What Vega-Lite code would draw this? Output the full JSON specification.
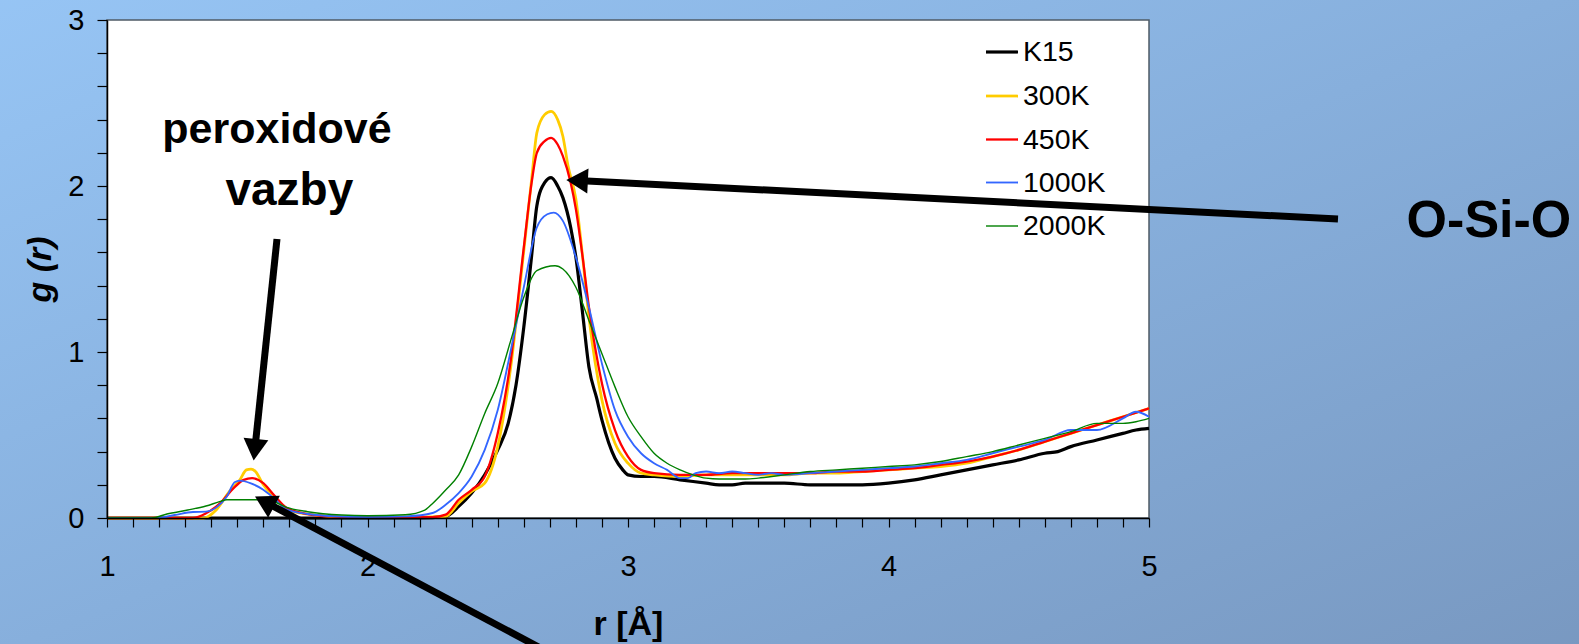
{
  "$schema": "https://vega.github.io/schema/vega-lite/v6.json",
  "width": 1042,
  "height": 498,
  "autosize": {"type": "none"},
  "padding": {"left": 107, "top": 20, "right": 430, "bottom": 126},
  "background": "#8AB2DE",
  "config": {
    "view": {"stroke": null},
    "font": "Liberation Sans",
    "axis": {"grid": false, "domainColor": "#000000", "domainWidth": 1.5, "tickColor": "#000000", "tickWidth": 1.2, "labelFont": "Liberation Sans", "labelColor": "#000000", "titleFont": "Liberation Sans", "titleColor": "#000000", "titleFontWeight": "bold"}
  },
  "encoding": {
    "x": {"field": "r", "type": "quantitative",
      "scale": {"domain": [1, 5], "nice": false, "zero": false},
      "axis": {"zindex": 2, "values": [1,1.1,1.2,1.3,1.4,1.5,1.6,1.7,1.8,1.9,2,2.1,2.2,2.3,2.4,2.5,2.6,2.7,2.8,2.9,3,3.1,3.2,3.3,3.4,3.5,3.6,3.7,3.8,3.9,4,4.1,4.2,4.3,4.4,4.5,4.6,4.7,4.8,4.9,5],
        "labelExpr": "abs(datum.value - round(datum.value)) < 0.001 ? format(datum.value, 'd') : ''",
        "labelFontSize": 29, "tickSize": 9, "labelPadding": 25, "labelFlush": false, "title": "r  [Å]", "titleFontSize": 34, "titlePadding": 26}},
    "y": {"field": "g", "type": "quantitative",
      "scale": {"domain": [0, 3], "nice": false, "zero": false},
      "axis": {"zindex": 2, "values": [0,0.2,0.4,0.6,0.8,1,1.2,1.4,1.6,1.8,2,2.2,2.4,2.6,2.8,3],
        "labelExpr": "abs(datum.value - round(datum.value)) < 0.001 ? format(datum.value, 'd') : ''",
        "labelFontSize": 29, "tickSize": 10, "labelPadding": 13, "labelFlush": false, "title": "g (r)", "titleFontSize": 34, "titleFontStyle": "italic", "titlePadding": 10}}
  },
  "layer": [
    {
      "data": {"values": [{"r": 0.3, "r2": 7.0, "g": -1.0, "g2": 3.4}]},
      "mark": {"type": "rect", "color": {"gradient": "linear", "x1": 0, "y1": 0, "x2": 1, "y2": 1, "stops": [{"offset": 0, "color": "#98C7F7"}, {"offset": 0.5, "color": "#87AFDC"}, {"offset": 1, "color": "#7796BE"}]}},
      "encoding": {"x2": {"field": "r2"}, "y2": {"field": "g2"}}
    },
    {
      "data": {"values": [{"r": 1, "r2": 5, "g": 0, "g2": 3}]},
      "mark": {"type": "rect", "fill": "#FFFFFF", "stroke": "#4F5B66", "strokeWidth": 1.5},
      "encoding": {"x2": {"field": "r2"}, "y2": {"field": "g2"}}
    },
    {
      "data": {"name": "curves"},
      "mark": {"type": "line", "interpolate": "monotone"},
      "encoding": {
        "color": {"field": "s", "type": "nominal", "sort": null,
          "scale": {"domain": ["K15", "300K", "450K", "1000K", "2000K"], "range": ["#000000", "#FFCC00", "#FF0000", "#3366FF", "#008000"]},
          "legend": {"title": null, "orient": "none", "legendX": 877, "legendY": 14, "zindex": 2, "padding": 0, "symbolType": "stroke", "symbolSize": 1024, "labelFontSize": 28.5, "labelFont": "Liberation Sans", "labelColor": "#000000", "labelOffset": 3, "rowPadding": 11.5, "fillColor": null, "strokeColor": null}},
        "strokeWidth": {"field": "s", "type": "nominal", "sort": null,
          "scale": {"domain": ["K15", "300K", "450K", "1000K", "2000K"], "range": [3.2, 1.4, 1.4, 1.4, 1.4]}},
        "order": {"field": "r", "type": "quantitative"}
      }
    },
    {
      "data": {"values": [
        {"r": 1.6526, "g": 1.6807, "r2": 1.5674, "g2": 0.4114},
        {"r": 5.7255, "g": 1.8012, "r2": 2.8046, "g2": 2.0331},
        {"r": 2.7221, "g": -0.8319, "r2": 1.6046, "g2": 0.0988}
      ]},
      "mark": {"type": "rule", "color": "#000000", "strokeWidth": 7},
      "encoding": {"x2": {"field": "r2"}, "y2": {"field": "g2"}}
    },
    {
      "data": {"values": [{"r": 1.5674, "g": 0.4114}]},
      "mark": {"type": "point", "shape": "triangle-down", "angle": 6, "size": 620, "filled": true, "color": "#000000", "opacity": 1}
    },
    {
      "data": {"values": [{"r": 2.8046, "g": 2.0331}]},
      "mark": {"type": "point", "shape": "triangle-left", "angle": 2.9, "size": 620, "filled": true, "color": "#000000", "opacity": 1}
    },
    {
      "data": {"values": [{"r": 1.6046, "g": 0.0988}]},
      "mark": {"type": "point", "shape": "triangle-left", "angle": 28, "size": 620, "filled": true, "color": "#000000", "opacity": 1}
    },
    {
      "data": {"values": [
        {"r": 1.6526, "g": 2.262, "label": "peroxidové"}
      ]},
      "mark": {"type": "text", "font": "Liberation Sans", "fontWeight": "bold", "fontSize": 43, "align": "center", "baseline": "alphabetic", "color": "#000000"},
      "encoding": {"text": {"field": "label"}}
    },
    {
      "data": {"values": [
        {"r": 1.7, "g": 1.884, "label": "vazby"}
      ]},
      "mark": {"type": "text", "font": "Liberation Sans", "fontWeight": "bold", "fontSize": 46, "align": "center", "baseline": "alphabetic", "color": "#000000"},
      "encoding": {"text": {"field": "label"}}
    },
    {
      "data": {"values": [
        {"r": 6.305, "g": 1.691, "label": "O-Si-O"}
      ]},
      "mark": {"type": "text", "font": "Liberation Sans", "fontWeight": "bold", "fontSize": 52, "align": "center", "baseline": "alphabetic", "color": "#000000"},
      "encoding": {"text": {"field": "label"}}
    }
  ],
  "datasets": {
    "curves": [
      {"s":"K15","r":1.0,"g":0},{"s":"K15","r":2.2,"g":0},{"s":"K15","r":2.3,"g":0.01},{"s":"K15","r":2.35,"g":0.07},{"s":"K15","r":2.4,"g":0.15},{"s":"K15","r":2.45,"g":0.26},{"s":"K15","r":2.5,"g":0.41},{"s":"K15","r":2.54,"g":0.57},{"s":"K15","r":2.57,"g":0.8},{"s":"K15","r":2.6,"g":1.15},{"s":"K15","r":2.63,"g":1.58},{"s":"K15","r":2.65,"g":1.88},{"s":"K15","r":2.68,"g":2.02},{"s":"K15","r":2.705,"g":2.05},{"s":"K15","r":2.73,"g":2.0},{"s":"K15","r":2.75,"g":1.93},{"s":"K15","r":2.78,"g":1.75},{"s":"K15","r":2.8,"g":1.57},{"s":"K15","r":2.826,"g":1.23},{"s":"K15","r":2.85,"g":0.91},{"s":"K15","r":2.88,"g":0.72},{"s":"K15","r":2.9,"g":0.59},{"s":"K15","r":2.95,"g":0.36},{"s":"K15","r":2.98,"g":0.29},{"s":"K15","r":3.0,"g":0.26},{"s":"K15","r":3.05,"g":0.25},{"s":"K15","r":3.1,"g":0.25},{"s":"K15","r":3.2,"g":0.23},{"s":"K15","r":3.3,"g":0.21},{"s":"K15","r":3.35,"g":0.2},{"s":"K15","r":3.4,"g":0.2},{"s":"K15","r":3.45,"g":0.21},{"s":"K15","r":3.5,"g":0.21},{"s":"K15","r":3.6,"g":0.21},{"s":"K15","r":3.7,"g":0.2},{"s":"K15","r":3.8,"g":0.2},{"s":"K15","r":3.9,"g":0.2},{"s":"K15","r":4.0,"g":0.21},{"s":"K15","r":4.1,"g":0.23},{"s":"K15","r":4.2,"g":0.26},{"s":"K15","r":4.3,"g":0.29},{"s":"K15","r":4.4,"g":0.32},{"s":"K15","r":4.5,"g":0.35},{"s":"K15","r":4.6,"g":0.39},{"s":"K15","r":4.65,"g":0.4},{"s":"K15","r":4.7,"g":0.43},{"s":"K15","r":4.8,"g":0.47},{"s":"K15","r":4.9,"g":0.51},{"s":"K15","r":4.95,"g":0.53},{"s":"K15","r":5.0,"g":0.54},
      {"s":"300K","r":1.0,"g":0},{"s":"300K","r":1.37,"g":0},{"s":"300K","r":1.42,"g":0.05},{"s":"300K","r":1.47,"g":0.16},{"s":"300K","r":1.51,"g":0.23},{"s":"300K","r":1.535,"g":0.29},{"s":"300K","r":1.553,"g":0.295},{"s":"300K","r":1.57,"g":0.28},{"s":"300K","r":1.6,"g":0.2},{"s":"300K","r":1.64,"g":0.13},{"s":"300K","r":1.69,"g":0.05},{"s":"300K","r":1.77,"g":0.024},{"s":"300K","r":1.85,"g":0.01},{"s":"300K","r":1.9,"g":0.005},{"s":"300K","r":2.2,"g":0.005},{"s":"300K","r":2.3,"g":0.01},{"s":"300K","r":2.35,"g":0.09},{"s":"300K","r":2.4,"g":0.16},{"s":"300K","r":2.45,"g":0.21},{"s":"300K","r":2.5,"g":0.43},{"s":"300K","r":2.55,"g":0.91},{"s":"300K","r":2.6,"g":1.61},{"s":"300K","r":2.63,"g":2.04},{"s":"300K","r":2.65,"g":2.32},{"s":"300K","r":2.68,"g":2.43},{"s":"300K","r":2.705,"g":2.45},{"s":"300K","r":2.73,"g":2.4},{"s":"300K","r":2.75,"g":2.3},{"s":"300K","r":2.77,"g":2.12},{"s":"300K","r":2.8,"g":1.92},{"s":"300K","r":2.826,"g":1.57},{"s":"300K","r":2.85,"g":1.21},{"s":"300K","r":2.9,"g":0.71},{"s":"300K","r":2.95,"g":0.45},{"s":"300K","r":3.0,"g":0.33},{"s":"300K","r":3.05,"g":0.27},{"s":"300K","r":3.1,"g":0.26},{"s":"300K","r":3.2,"g":0.25},{"s":"300K","r":3.3,"g":0.26},{"s":"300K","r":3.4,"g":0.26},{"s":"300K","r":3.5,"g":0.26},{"s":"300K","r":3.6,"g":0.26},{"s":"300K","r":3.7,"g":0.27},{"s":"300K","r":3.8,"g":0.27},{"s":"300K","r":3.9,"g":0.28},{"s":"300K","r":4.0,"g":0.29},{"s":"300K","r":4.1,"g":0.3},{"s":"300K","r":4.2,"g":0.31},{"s":"300K","r":4.3,"g":0.33},{"s":"300K","r":4.4,"g":0.37},{"s":"300K","r":4.5,"g":0.41},{"s":"300K","r":4.6,"g":0.46},{"s":"300K","r":4.7,"g":0.51},{"s":"300K","r":4.8,"g":0.56},{"s":"300K","r":4.9,"g":0.61},{"s":"300K","r":5.0,"g":0.66},
      {"s":"450K","r":1.0,"g":0},{"s":"450K","r":1.33,"g":0},{"s":"450K","r":1.38,"g":0.028},{"s":"450K","r":1.435,"g":0.09},{"s":"450K","r":1.486,"g":0.18},{"s":"450K","r":1.525,"g":0.23},{"s":"450K","r":1.557,"g":0.24},{"s":"450K","r":1.6,"g":0.21},{"s":"450K","r":1.64,"g":0.14},{"s":"450K","r":1.69,"g":0.06},{"s":"450K","r":1.77,"g":0.024},{"s":"450K","r":1.85,"g":0.01},{"s":"450K","r":2.0,"g":0.003},{"s":"450K","r":2.25,"g":0.005},{"s":"450K","r":2.3,"g":0.02},{"s":"450K","r":2.35,"g":0.11},{"s":"450K","r":2.4,"g":0.17},{"s":"450K","r":2.45,"g":0.25},{"s":"450K","r":2.5,"g":0.51},{"s":"450K","r":2.55,"g":0.95},{"s":"450K","r":2.6,"g":1.63},{"s":"450K","r":2.63,"g":2.02},{"s":"450K","r":2.65,"g":2.2},{"s":"450K","r":2.68,"g":2.27},{"s":"450K","r":2.705,"g":2.29},{"s":"450K","r":2.73,"g":2.25},{"s":"450K","r":2.75,"g":2.18},{"s":"450K","r":2.78,"g":2.02},{"s":"450K","r":2.8,"g":1.86},{"s":"450K","r":2.826,"g":1.57},{"s":"450K","r":2.85,"g":1.27},{"s":"450K","r":2.9,"g":0.81},{"s":"450K","r":2.95,"g":0.53},{"s":"450K","r":3.0,"g":0.37},{"s":"450K","r":3.05,"g":0.29},{"s":"450K","r":3.1,"g":0.27},{"s":"450K","r":3.2,"g":0.26},{"s":"450K","r":3.3,"g":0.26},{"s":"450K","r":3.4,"g":0.27},{"s":"450K","r":3.5,"g":0.27},{"s":"450K","r":3.6,"g":0.27},{"s":"450K","r":3.7,"g":0.27},{"s":"450K","r":3.8,"g":0.28},{"s":"450K","r":3.9,"g":0.28},{"s":"450K","r":4.0,"g":0.29},{"s":"450K","r":4.1,"g":0.3},{"s":"450K","r":4.2,"g":0.32},{"s":"450K","r":4.3,"g":0.34},{"s":"450K","r":4.4,"g":0.37},{"s":"450K","r":4.5,"g":0.41},{"s":"450K","r":4.6,"g":0.46},{"s":"450K","r":4.7,"g":0.51},{"s":"450K","r":4.8,"g":0.56},{"s":"450K","r":4.9,"g":0.61},{"s":"450K","r":5.0,"g":0.66},
      {"s":"1000K","r":1.0,"g":0},{"s":"1000K","r":1.19,"g":0},{"s":"1000K","r":1.26,"g":0.018},{"s":"1000K","r":1.33,"g":0.036},{"s":"1000K","r":1.38,"g":0.038},{"s":"1000K","r":1.42,"g":0.064},{"s":"1000K","r":1.46,"g":0.13},{"s":"1000K","r":1.49,"g":0.215},{"s":"1000K","r":1.51,"g":0.225},{"s":"1000K","r":1.55,"g":0.21},{"s":"1000K","r":1.6,"g":0.17},{"s":"1000K","r":1.64,"g":0.12},{"s":"1000K","r":1.69,"g":0.05},{"s":"1000K","r":1.77,"g":0.024},{"s":"1000K","r":1.85,"g":0.012},{"s":"1000K","r":2.0,"g":0.005},{"s":"1000K","r":2.15,"g":0.01},{"s":"1000K","r":2.25,"g":0.03},{"s":"1000K","r":2.3,"g":0.08},{"s":"1000K","r":2.35,"g":0.15},{"s":"1000K","r":2.4,"g":0.25},{"s":"1000K","r":2.45,"g":0.41},{"s":"1000K","r":2.5,"g":0.65},{"s":"1000K","r":2.55,"g":1.01},{"s":"1000K","r":2.6,"g":1.39},{"s":"1000K","r":2.65,"g":1.75},{"s":"1000K","r":2.69,"g":1.83},{"s":"1000K","r":2.715,"g":1.84},{"s":"1000K","r":2.75,"g":1.79},{"s":"1000K","r":2.8,"g":1.57},{"s":"1000K","r":2.85,"g":1.27},{"s":"1000K","r":2.9,"g":0.93},{"s":"1000K","r":2.95,"g":0.65},{"s":"1000K","r":3.0,"g":0.49},{"s":"1000K","r":3.05,"g":0.39},{"s":"1000K","r":3.1,"g":0.33},{"s":"1000K","r":3.15,"g":0.29},{"s":"1000K","r":3.2,"g":0.24},{"s":"1000K","r":3.23,"g":0.24},{"s":"1000K","r":3.26,"g":0.27},{"s":"1000K","r":3.3,"g":0.28},{"s":"1000K","r":3.35,"g":0.27},{"s":"1000K","r":3.4,"g":0.28},{"s":"1000K","r":3.45,"g":0.27},{"s":"1000K","r":3.5,"g":0.26},{"s":"1000K","r":3.55,"g":0.27},{"s":"1000K","r":3.6,"g":0.26},{"s":"1000K","r":3.7,"g":0.27},{"s":"1000K","r":3.8,"g":0.28},{"s":"1000K","r":3.9,"g":0.29},{"s":"1000K","r":4.0,"g":0.3},{"s":"1000K","r":4.1,"g":0.31},{"s":"1000K","r":4.2,"g":0.33},{"s":"1000K","r":4.3,"g":0.35},{"s":"1000K","r":4.4,"g":0.39},{"s":"1000K","r":4.5,"g":0.43},{"s":"1000K","r":4.6,"g":0.47},{"s":"1000K","r":4.7,"g":0.53},{"s":"1000K","r":4.8,"g":0.53},{"s":"1000K","r":4.9,"g":0.6},{"s":"1000K","r":4.95,"g":0.64},{"s":"1000K","r":5.0,"g":0.61},
      {"s":"2000K","r":1.0,"g":0},{"s":"2000K","r":1.17,"g":0},{"s":"2000K","r":1.23,"g":0.024},{"s":"2000K","r":1.31,"g":0.048},{"s":"2000K","r":1.38,"g":0.072},{"s":"2000K","r":1.435,"g":0.1},{"s":"2000K","r":1.46,"g":0.11},{"s":"2000K","r":1.6,"g":0.11},{"s":"2000K","r":1.64,"g":0.098},{"s":"2000K","r":1.69,"g":0.064},{"s":"2000K","r":1.77,"g":0.038},{"s":"2000K","r":1.9,"g":0.018},{"s":"2000K","r":2.0,"g":0.014},{"s":"2000K","r":2.145,"g":0.02},{"s":"2000K","r":2.22,"g":0.048},{"s":"2000K","r":2.25,"g":0.088},{"s":"2000K","r":2.3,"g":0.169},{"s":"2000K","r":2.35,"g":0.26},{"s":"2000K","r":2.4,"g":0.43},{"s":"2000K","r":2.45,"g":0.63},{"s":"2000K","r":2.5,"g":0.81},{"s":"2000K","r":2.55,"g":1.07},{"s":"2000K","r":2.6,"g":1.33},{"s":"2000K","r":2.65,"g":1.49},{"s":"2000K","r":2.72,"g":1.52},{"s":"2000K","r":2.75,"g":1.5},{"s":"2000K","r":2.8,"g":1.39},{"s":"2000K","r":2.85,"g":1.19},{"s":"2000K","r":2.9,"g":0.99},{"s":"2000K","r":2.95,"g":0.79},{"s":"2000K","r":3.0,"g":0.61},{"s":"2000K","r":3.05,"g":0.49},{"s":"2000K","r":3.1,"g":0.39},{"s":"2000K","r":3.15,"g":0.33},{"s":"2000K","r":3.2,"g":0.29},{"s":"2000K","r":3.25,"g":0.26},{"s":"2000K","r":3.3,"g":0.24},{"s":"2000K","r":3.35,"g":0.235},{"s":"2000K","r":3.45,"g":0.235},{"s":"2000K","r":3.5,"g":0.24},{"s":"2000K","r":3.6,"g":0.26},{"s":"2000K","r":3.7,"g":0.28},{"s":"2000K","r":3.8,"g":0.29},{"s":"2000K","r":3.9,"g":0.3},{"s":"2000K","r":4.0,"g":0.31},{"s":"2000K","r":4.1,"g":0.32},{"s":"2000K","r":4.2,"g":0.34},{"s":"2000K","r":4.3,"g":0.37},{"s":"2000K","r":4.4,"g":0.4},{"s":"2000K","r":4.5,"g":0.44},{"s":"2000K","r":4.6,"g":0.48},{"s":"2000K","r":4.7,"g":0.52},{"s":"2000K","r":4.8,"g":0.57},{"s":"2000K","r":4.9,"g":0.57},{"s":"2000K","r":4.95,"g":0.58},{"s":"2000K","r":5.0,"g":0.6}
    ]
  }
}
